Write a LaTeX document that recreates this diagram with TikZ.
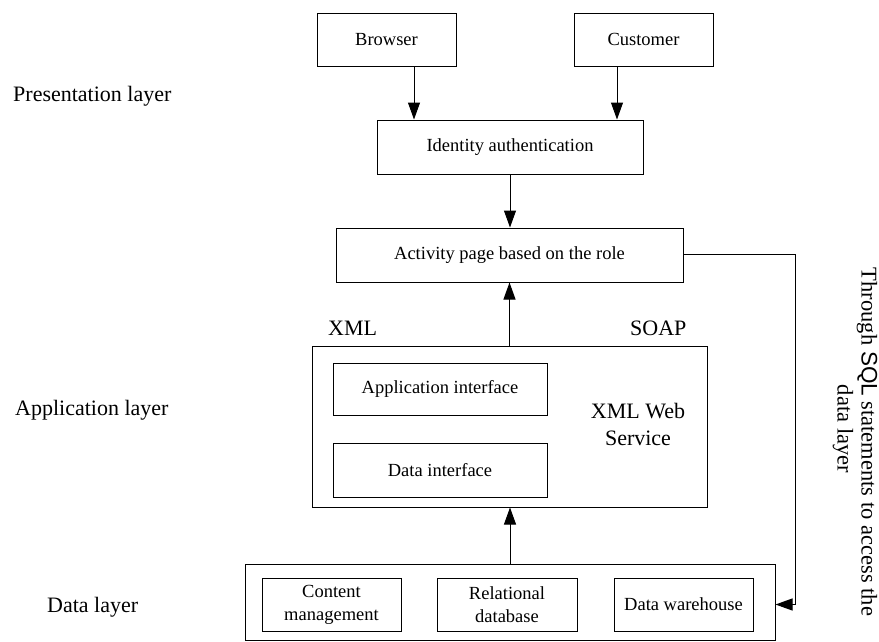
\documentclass[tikz,border=0pt]{standalone}
\usepackage{fontspec}
\setmainfont{Liberation Serif}
\newfontfamily\sqlfont{Liberation Sans}
\usetikzlibrary{arrows.meta,calc}
\begin{document}
\begin{tikzpicture}[x=1pt,y=-1pt,
  box/.style={draw=black,line width=1pt,inner sep=0pt,align=center,
    font=\fontsize{18.5}{23}\selectfont},
  big/.style={draw=black,line width=1pt,inner sep=0pt},
  lbl/.style={inner sep=0pt,font=\fontsize{22}{27}\selectfont},
  arr/.style={line width=1pt,-{Triangle[length=17pt,width=12pt]}}]
\useasboundingbox (0,0) rectangle (879,641);
% layer labels
\node[lbl,anchor=base west] (pl) at (13,101) {Presentation layer};
\node[lbl,anchor=base west] (al) at (15,415) {Application layer};
\node[lbl,anchor=base west] (dl) at (47,612) {Data layer};
% presentation
\node[box,minimum width=139pt,minimum height=53pt] (browser) at (386.5,39.5) {Browser};
\node[box,minimum width=139pt,minimum height=53pt] (customer) at (643.5,39.5) {Customer};
\node[box,minimum width=266pt,minimum height=54pt] (ident) at (510,147) {Identity authentication};
\node[box,minimum width=347pt,minimum height=54pt] (act) at (509.5,255) {Activity page based on the role};
% application
\node[big,minimum width=395pt,minimum height=161pt] (xmlbox) at (509.5,426.5) {};
\node[lbl,anchor=base west] (xml) at (328,335) {XML};
\node[lbl,anchor=base west] (soap) at (630,335) {SOAP};
\node[lbl,align=center] (ws) at (638,424) {XML Web\\Service};
\node[box,minimum width=214pt,minimum height=52pt] (appif) at (440,389) {Application interface};
\node[box,minimum width=214pt,minimum height=54pt] (dataif) at (440,470) {Data interface};
% data
\node[big,minimum width=530pt,minimum height=76pt] (datab) at (510,602) {};
\node[box,minimum width=139pt,minimum height=53pt] (cm) at (331.5,604.5) {Content\\management};
\node[box,minimum width=140pt,minimum height=53pt] (rd) at (507,604.5) {Relational\\database};
\node[box,minimum width=139pt,minimum height=53pt] (dw) at (683.5,604.5) {Data warehouse};
% side label
\node[lbl,rotate=-90,align=center,font=\fontsize{22.5}{24}\selectfont] (side) at (855,442) {Through {\sqlfont SQL} statements to access the\\data layer\rule{26pt}{0pt}};
% connectors
\draw[arr] ([xshift=27.5pt]browser.south) -- ([xshift=27.5pt]browser.south |- ident.north);
\draw[arr] ([xshift=-26.5pt]customer.south) -- ([xshift=-26.5pt]customer.south |- ident.north);
\draw[arr] (ident.south) -- (ident.south |- act.north);
\draw[arr] (xmlbox.north) -- (xmlbox.north |- act.south);
\draw[arr] (datab.north) -- (datab.north |- xmlbox.south);
\coordinate (bend) at (795,254);
\draw[arr] (act.east |- bend) -- (bend) |- (dw.east -| datab.east);
\end{tikzpicture}
\end{document}
